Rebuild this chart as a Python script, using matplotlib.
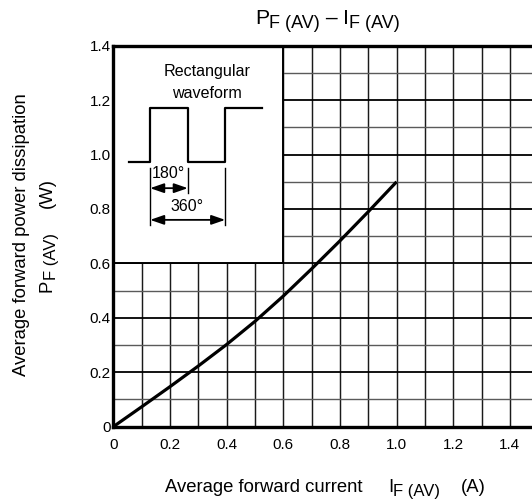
import matplotlib
matplotlib.use("Agg")
import matplotlib.pyplot as plt
from matplotlib.patches import Rectangle

plt.rcParams['font.family'] = ['Liberation Sans', 'DejaVu Sans']

# ---- data ----
current_a = [0.0, 0.1, 0.2, 0.3, 0.4, 0.5, 0.6, 0.7, 0.8, 0.9, 1.0]
power_w = [0.0, 0.073, 0.147, 0.223, 0.302, 0.387, 0.480, 0.580, 0.683, 0.790, 0.900]

x_ticks = [0, 0.2, 0.4, 0.6, 0.8, 1.0, 1.2, 1.4]
x_tick_labels = ['0', '0.2', '0.4', '0.6', '0.8', '1.0', '1.2', '1.4']
y_ticks = [0, 0.2, 0.4, 0.6, 0.8, 1.0, 1.2, 1.4]
y_tick_labels = ['0', '0.2', '0.4', '0.6', '0.8', '1.0', '1.2', '1.4']

# inset schematic (rectangular waveform) in data coordinates
wave_x = [0.056, 0.13, 0.13, 0.263, 0.263, 0.395, 0.395, 0.526]
wave_y = [0.974, 0.974, 1.171, 1.171, 0.974, 0.974, 1.171, 1.171]

W, H = 532, 501
fig = plt.figure(figsize=(W / 100, H / 100), dpi=100)
renderer = fig.canvas.get_renderer()

ax_left, ax_bottom_px, ax_top_px = 113.3, 426.7, 45.7
x_max = 1.5
px_per_unit_x = 283.3
ax = fig.add_axes([ax_left / W, 1 - ax_bottom_px / H,
                   x_max * px_per_unit_x / W, (ax_bottom_px - ax_top_px) / H])
ax.set_xlim(0, x_max)
ax.set_ylim(0, 1.4)

ax.set_xticks(x_ticks)
ax.set_xticklabels(x_tick_labels, fontsize=11)
ax.set_yticks(y_ticks)
ax.set_yticklabels(y_tick_labels, fontsize=11)
ax.set_xticks([i / 10 for i in range(16)], minor=True)
ax.set_yticks([i / 10 for i in range(15)], minor=True)
ax.tick_params(axis='both', which='both', length=0)
ax.tick_params(axis='x', pad=8)
ax.tick_params(axis='y', pad=2)

ax.set_axisbelow(True)
ax.grid(which='major', axis='x', color='#1a1a1a', lw=1.05)
ax.grid(which='minor', axis='x', color='#1a1a1a', lw=1.05)
ax.grid(which='major', axis='y', color='black', lw=1.3)
ax.grid(which='minor', axis='y', color='#5a5a5a', lw=1.0)

# blank inset region
ax.add_patch(Rectangle((0, 0.6), 0.6, 0.8, facecolor='white',
                       edgecolor='black', lw=1.4, zorder=1.5))

for s in ['left', 'bottom', 'top']:
    ax.spines[s].set_linewidth(2.4)
    ax.spines[s].set_zorder(4)
ax.spines['right'].set_visible(False)

ax.plot(current_a, power_w, color='black', lw=2.3, zorder=3,
        solid_capstyle='butt', solid_joinstyle='round')

# inset contents
ax.plot(wave_x, wave_y, color='black', lw=1.6, zorder=3)
for xv, y0, y1 in [(0.13, 0.951, 0.7415), (0.263, 0.951, 0.859), (0.395, 0.951, 0.7415)]:
    ax.plot([xv, xv], [y0, y1], color='black', lw=1.0, zorder=3)
arrow_style = dict(arrowstyle='<|-|>,head_length=0.75,head_width=0.26',
                   color='black', lw=1.3, shrinkA=0, shrinkB=0)
ax.annotate('', xy=(0.13, 0.8765), xytext=(0.263, 0.8765), arrowprops=arrow_style,
            fontsize=11, zorder=3)
ax.annotate('', xy=(0.13, 0.76), xytext=(0.395, 0.76), arrowprops=arrow_style,
            fontsize=11, zorder=3)
ax.text(0.194, 0.929, '180°', ha='center', va='center', fontsize=11.5, zorder=3)
ax.text(0.259, 0.809, '360°', ha='center', va='center', fontsize=11.5, zorder=3)
ax.text(0.33, 1.304, 'Rectangular', ha='center', va='center', fontsize=11.6, zorder=3)
ax.text(0.33, 1.226, 'waveform', ha='center', va='center', fontsize=11.6, zorder=3)


def text_width(s, size):
    t = fig.text(0, 0, s, fontsize=size)
    w = t.get_window_extent(renderer).width
    t.remove()
    return w


def place_pieces(pieces, center_px, baseline_px, vertical=False):
    """pieces: list of (text, fontsize, drop_px). Positions in pixels from top-left."""
    widths = [text_width(s, sz) for s, sz, _ in pieces]
    total = sum(widths)
    pos = center_px - total / 2 if not vertical else center_px + total / 2
    for (s, sz, drop), w in zip(pieces, widths):
        if not vertical:
            fig.text(pos / W, 1 - (baseline_px + drop) / H, s, fontsize=sz,
                     ha='left', va='baseline')
            pos += w
        else:
            fig.text((baseline_px + drop) / W, 1 - pos / H, s, fontsize=sz,
                     ha='left', va='baseline', rotation=90, rotation_mode='anchor')
            pos -= w


# title
place_pieces([('P', 15.2, 0), ('F (AV)', 13.0, 4.5), (' – ', 15.2, 0),
              ('I', 15.2, 0), ('F (AV)', 13.0, 4.5)], 327.5, 24)
# x label
place_pieces([('Average forward current', 13.3, 0), ('     ', 13.3, 0),
              ('I', 13.3, 0), ('F (AV)', 12.0, 4.5), ('    ', 13.3, 0),
              ('(A)', 13.3, 0)], 325.5, 491.5)
# y label
fig.text(22 / W, 1 - 235 / H, 'Average forward power dissipation',
         ha='center', va='center', rotation=90, fontsize=13.3)
place_pieces([('P', 13.3, 0), ('F (AV)', 12.0, 4.5), ('     ', 13.3, 0),
              ('(W)', 13.3, 0)], 235, 51.5, vertical=True)

fig.savefig('out.png', dpi=100)
